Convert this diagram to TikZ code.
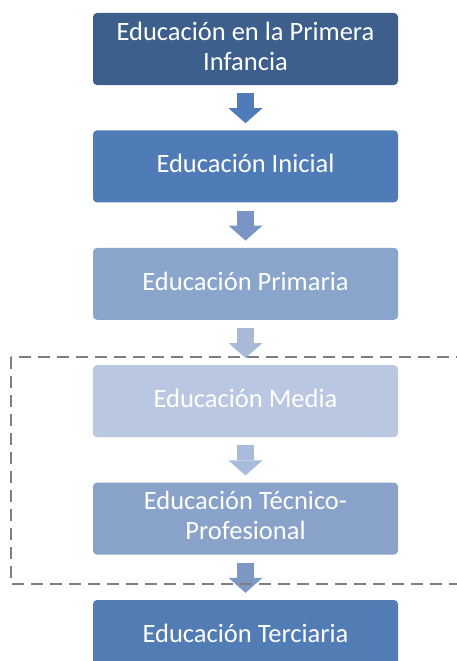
\documentclass[tikz,border=0pt]{standalone}
\usepackage{fontspec}
\setmainfont{Carlito}
\usetikzlibrary{positioning,arrows.meta}

\definecolor{nivelA}{HTML}{3C5F8C}
\definecolor{nivelB}{HTML}{4F7BB6}
\definecolor{nivelC}{HTML}{8AA5CB}
\definecolor{nivelD}{HTML}{B9C7E0}
\definecolor{nivelE}{HTML}{89A2CA}
\definecolor{nivelF}{HTML}{527CB4}
\definecolor{flechaA}{HTML}{4F7BB8}
\definecolor{flechaB}{HTML}{7895C5}
\definecolor{flechaC}{HTML}{A9BAD9}
\definecolor{flechaD}{HTML}{A9BBDA}
\definecolor{flechaE}{HTML}{7B97C4}
\definecolor{marco}{HTML}{7F7F7F}

\begin{document}
\begin{tikzpicture}
  [x=1pt, y=1pt, node distance=45pt,
   level/.style = {rectangle, rounded corners=4pt, minimum width=305pt,
                   minimum height=72pt, inner sep=0pt, text=white, align=center,
                   text depth=6pt, font=\fontsize{26.5}{30}\selectfont},
   down/.style = {line width=17pt, shorten <=8pt, shorten >=7pt,
                  -{Triangle[width=34pt,length=15pt,line width=0pt]}},
   limit/.style = {draw=marco, line width=2pt, dash pattern=on 12pt off 7pt}]

% Frame
\useasboundingbox (0,0) rectangle (457,-661);
\clip (0,0) rectangle (457,-661);

% Levels
\node[level, fill=nivelA] (infancia) at (245.5,-49) {Educación en la Primera\\Infancia};
\node[level, fill=nivelB, below=of infancia] (inicial) {Educación Inicial};
\node[level, fill=nivelC, below=of inicial] (primaria) {Educación Primaria};
\node[level, fill=nivelD, below=of primaria] (media) {Educación Media};
\node[level, fill=nivelE, below=of media] (tecnico) {Educación Técnico-\\Profesional};
\node[level, fill=nivelF, below=of tecnico] (terciaria) {Educación Terciaria};

% Arrows
\draw[down, flechaA] (infancia) -- (inicial);
\draw[down, flechaB] (inicial) -- (primaria);
\draw[down, flechaC] (primaria) -- (media);
\draw[down, flechaD] (media) -- (tecnico);
\draw[down, flechaE] (tecnico) -- (terciaria);

% Dashed group
\draw[limit] ([xshift=-82pt,yshift=8pt]media.north west)
  rectangle ([xshift=80pt,yshift=-29pt]tecnico.south east);

\end{tikzpicture}
\end{document}
